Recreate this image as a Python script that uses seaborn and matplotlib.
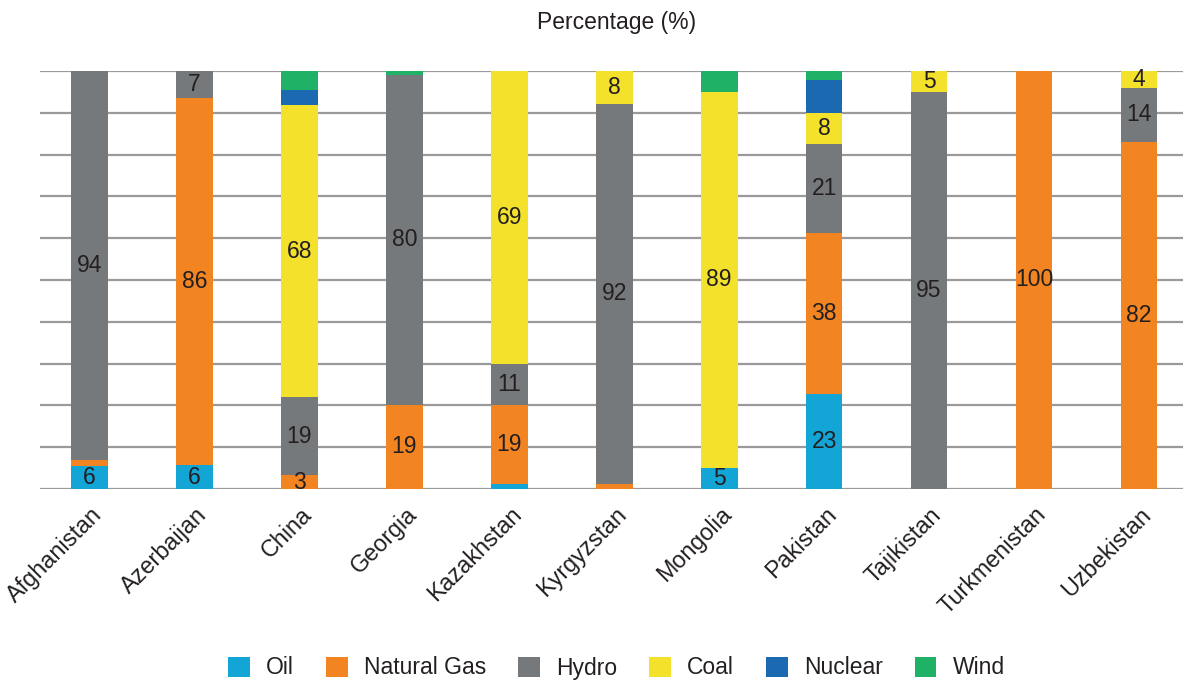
import numpy as np
import seaborn as sns
import matplotlib.pyplot as plt
import matplotlib.transforms as mtransforms

countries = ['Afghanistan', 'Azerbaijan', 'China', 'Georgia', 'Kazakhstan', 'Kyrgyzstan',
             'Mongolia', 'Pakistan', 'Tajikistan', 'Turkmenistan', 'Uzbekistan']

# shares (%), bottom to top
oil     = [5.6, 5.7, 0.0, 0.0, 1.2, 0.0, 5.1, 22.7, 0.0, 0.0, 0.0]
gas     = [1.4, 87.9, 3.3, 20.1, 18.9, 1.2, 0.0, 38.5, 0.0, 100.0, 83.1]
hydro   = [93.0, 6.4, 18.7, 79.0, 9.8, 90.9, 0.0, 21.3, 95.0, 0.0, 12.8]
coal    = [0.0, 0.0, 69.8, 0.0, 70.1, 7.9, 89.9, 7.4, 5.0, 0.0, 4.1]
nuclear = [0.0, 0.0, 3.6, 0.0, 0.0, 0.0, 0.0, 7.9, 0.0, 0.0, 0.0]
wind    = [0.0, 0.0, 4.5, 0.9, 0.0, 0.0, 5.0, 2.2, 0.0, 0.0, 0.0]

# printed labels as shown in the chart
oil_labels     = ['6', '6', '', '', '', '', '5', '23', '', '', '']
gas_labels     = ['', '86', '3', '19', '19', '', '', '38', '', '100', '82']
hydro_labels   = ['94', '7', '19', '80', '11', '92', '', '21', '95', '', '14']
coal_labels    = ['', '', '68', '', '69', '8', '89', '8', '5', '', '4']
nuclear_labels = [''] * 11
wind_labels    = [''] * 11

series = [
    ('Oil', oil, oil_labels, '#13A5D6'),
    ('Natural Gas', gas, gas_labels, '#F28522'),
    ('Hydro', hydro, hydro_labels, '#76797B'),
    ('Coal', coal, coal_labels, '#F3E12C'),
    ('Nuclear', nuclear, nuclear_labels, '#1A69B1'),
    ('Wind', wind, wind_labels, '#1FB267'),
]

TXT = '#231f20'
FS = 16.5

sns.set_style('white')
plt.rcParams['font.family'] = ['Liberation Sans', 'DejaVu Sans']

fig = plt.figure(figsize=(11.83, 6.8), dpi=100)
ax = fig.add_axes([0.034, 0.281, 0.966, 0.6146])

bottom = np.zeros(len(countries))
for name, vals, labs, col in series:
    vals = np.array(vals)
    sns.barplot(x=countries, y=vals, bottom=bottom, color=col, width=0.35,
                errorbar=None, label=name, ax=ax, saturation=1, linewidth=0)
    for i, (v, t) in enumerate(zip(vals, labs)):
        if t:
            ax.text(i, bottom[i] + v / 2, t, ha='center', va='center',
                    fontsize=FS, color=TXT)
    bottom += vals

handles, labels = ax.get_legend_handles_labels()
if ax.get_legend() is not None:
    ax.get_legend().remove()

ax.set_xlim(-0.47, 10.42)
ax.set_ylim(0, 100)
ax.set_yticks(np.arange(0, 101, 10))
ax.set_yticklabels([])
ax.yaxis.grid(True, color='#9a9a9a', lw=1.6)
ax.set_axisbelow(True)
ax.tick_params(axis='both', length=0)
ax.tick_params(axis='x', pad=16)
for s in ax.spines.values():
    s.set_visible(False)
ax.set_ylabel('')
shift = mtransforms.ScaledTranslation(9 / 100, 0, fig.dpi_scale_trans)
for lab in ax.get_xticklabels():
    lab.set_rotation(45)
    lab.set_ha('right')
    lab.set_va('center')
    lab.set_rotation_mode('anchor')
    lab.set_fontsize(16.8)
    lab.set_color(TXT)
    lab.set_transform(lab.get_transform() + shift)

fig.text(0.521, 1 - 22 / 680, 'Percentage (%)', ha='center', va='center',
         fontsize=FS, color=TXT)

fig.legend(handles, labels, loc='center', bbox_to_anchor=(0.521, 1 - 668 / 680),
           ncol=6, frameon=False, fontsize=FS, handlelength=0.95, handleheight=0.95,
           handletextpad=0.7, columnspacing=1.4, labelcolor=TXT)

plt.savefig('out.png', dpi=100)
